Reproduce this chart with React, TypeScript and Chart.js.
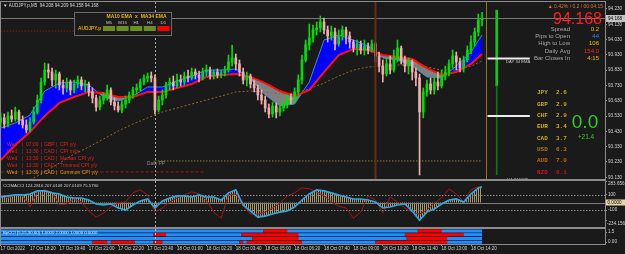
import React, { useEffect, useRef } from 'react';
import { Chart, registerables } from 'chart.js';

Chart.register(...registerables);

/* ------------------------------------------------------------------ */
/* data (x values are M5 bar numbers from 17 Oct 17:00) */
/* ------------------------------------------------------------------ */
const HEADER_TEXT = '\u25BC AUDJPY.p,M5  94.208 94.209 94.158 94.168';
const PANEL_SYMBOL = 'AUDJPY.p';
const PANEL_TITLE = 'MA10 EMA  x  MA34 EMA';
const TOP_RIGHT_TEXT = '\u25B2 0.42% / 0.2 / 00:04:15';
const LAST_PRICE = 94.168;
const LAST_BAR = 262;
const DAY_START_BAR = 84;
const SESSION_BAR = 204;
const NEXT_BAR = 264;

const TIME_TICK_BARS = [0, 16, 32, 48, 64, 80, 96, 112, 128, 144, 160, 176, 192, 208, 224, 240, 256];
const TIME_LABELS = [
  '17 Oct 2022', '17 Oct 18:20', '17 Oct 19:40', '17 Oct 21:00', '17 Oct 22:20', '17 Oct 23:40',
  '18 Oct 01:00', '18 Oct 02:20', '18 Oct 03:40', '18 Oct 05:00', '18 Oct 06:20', '18 Oct 07:40',
  '18 Oct 09:00', '18 Oct 10:20', '18 Oct 11:40', '18 Oct 13:00', '18 Oct 14:20',
];
const PRICE_TICKS = [94.23, 94.13, 94.03, 93.93, 93.83, 93.73, 93.63, 93.53, 93.43, 93.33, 93.23, 93.13];

// candles, one every 2 M5 bars
const OPEN = [
  93.491, 93.518, 93.478, 93.531, 93.511, 93.557, 93.505, 93.472, 93.439, 93.491,
  93.557, 93.635, 93.753, 93.831, 93.818, 93.766, 93.805, 93.733, 93.714, 93.753,
  93.701, 93.740, 93.766, 93.727, 93.740, 93.688, 93.648, 93.589, 93.635, 93.661,
  93.701, 93.622, 93.596, 93.570, 93.609, 93.635, 93.668, 93.701, 93.714, 93.753,
  93.779, 93.792, 93.779, 93.570, 93.635, 93.668, 93.733, 93.753, 93.727, 93.766,
  93.753, 93.792, 93.779, 93.818, 93.799, 93.779, 93.818, 93.831, 93.792, 93.818,
  93.799, 93.812, 93.831, 93.884, 93.910, 93.871, 93.818, 93.766, 93.792, 93.740,
  93.714, 93.668, 93.635, 93.583, 93.544, 93.596, 93.557, 93.583, 93.609, 93.648,
  93.635, 93.688, 93.766, 93.897, 93.995, 94.040, 94.093, 94.106, 94.145, 94.093,
  94.054, 94.080, 94.001, 94.054, 94.093, 94.054, 94.014, 93.975, 94.001, 93.962,
  93.988, 93.962, 94.001, 93.923, 93.857, 93.805, 93.871, 93.831, 93.910, 93.975,
  93.897, 93.857, 93.884, 93.818, 93.779, 93.557, 93.688, 93.740, 93.701, 93.753,
  93.727, 93.792, 93.818, 93.871, 93.923, 93.884, 93.844, 93.897, 93.962, 94.014,
  94.080, 94.158,
];
const HIGH = [
  93.550, 93.544, 93.557, 93.570, 93.589, 93.570, 93.531, 93.505, 93.518, 93.589,
  93.668, 93.779, 93.877, 93.871, 93.844, 93.831, 93.818, 93.766, 93.779, 93.766,
  93.766, 93.792, 93.786, 93.766, 93.753, 93.714, 93.668, 93.661, 93.681, 93.733,
  93.714, 93.648, 93.622, 93.635, 93.661, 93.688, 93.720, 93.740, 93.772, 93.799,
  93.812, 93.818, 93.799, 93.661, 93.701, 93.753, 93.779, 93.792, 93.805, 93.799,
  93.818, 93.831, 93.844, 93.838, 93.825, 93.844, 93.864, 93.851, 93.831, 93.838,
  93.831, 93.857, 93.929, 93.995, 93.936, 93.897, 93.844, 93.818, 93.805, 93.766,
  93.733, 93.701, 93.661, 93.609, 93.622, 93.616, 93.609, 93.635, 93.668, 93.674,
  93.714, 93.799, 93.929, 94.027, 94.132, 94.125, 94.145, 94.184, 94.171, 94.119,
  94.119, 94.106, 94.093, 94.119, 94.112, 94.080, 94.027, 94.027, 94.021, 94.027,
  94.008, 94.027, 94.014, 93.949, 93.897, 93.910, 93.923, 93.962, 94.027, 93.988,
  93.923, 93.910, 93.897, 93.844, 93.805, 93.714, 93.766, 93.779, 93.792, 93.818,
  93.831, 93.857, 93.897, 93.962, 93.949, 93.910, 93.923, 93.988, 94.054, 94.106,
  94.197, 94.209,
];
const LOW = [
  93.465, 93.452, 93.459, 93.491, 93.498, 93.478, 93.452, 93.420, 93.426, 93.478,
  93.544, 93.616, 93.733, 93.779, 93.727, 93.714, 93.701, 93.674, 93.688, 93.668,
  93.681, 93.714, 93.701, 93.688, 93.661, 93.616, 93.563, 93.570, 93.609, 93.635,
  93.603, 93.570, 93.557, 93.550, 93.583, 93.616, 93.648, 93.674, 93.694, 93.733,
  93.753, 93.753, 93.544, 93.557, 93.603, 93.648, 93.701, 93.701, 93.714, 93.727,
  93.733, 93.753, 93.766, 93.772, 93.753, 93.766, 93.792, 93.772, 93.772, 93.779,
  93.779, 93.792, 93.818, 93.857, 93.831, 93.792, 93.740, 93.727, 93.714, 93.688,
  93.635, 93.609, 93.557, 93.518, 93.524, 93.518, 93.531, 93.563, 93.583, 93.609,
  93.622, 93.668, 93.740, 93.884, 93.962, 94.014, 94.060, 94.080, 94.067, 94.014,
  94.027, 93.962, 93.988, 94.027, 94.001, 93.975, 93.949, 93.929, 93.936, 93.929,
  93.936, 93.949, 93.884, 93.818, 93.753, 93.792, 93.805, 93.818, 93.884, 93.871,
  93.818, 93.805, 93.766, 93.727, 93.145, 93.518, 93.661, 93.674, 93.674, 93.701,
  93.714, 93.766, 93.792, 93.844, 93.831, 93.818, 93.818, 93.884, 93.936, 93.988,
  94.054, 94.119,
];
const CLOSE = [
  93.518, 93.478, 93.531, 93.511, 93.557, 93.505, 93.472, 93.439, 93.491, 93.557,
  93.635, 93.753, 93.831, 93.818, 93.766, 93.805, 93.733, 93.714, 93.753, 93.701,
  93.740, 93.766, 93.727, 93.740, 93.688, 93.648, 93.589, 93.635, 93.661, 93.701,
  93.622, 93.596, 93.570, 93.609, 93.635, 93.668, 93.701, 93.714, 93.753, 93.779,
  93.792, 93.779, 93.570, 93.635, 93.668, 93.733, 93.753, 93.727, 93.766, 93.753,
  93.792, 93.779, 93.818, 93.799, 93.779, 93.818, 93.831, 93.792, 93.818, 93.799,
  93.812, 93.831, 93.884, 93.910, 93.871, 93.818, 93.766, 93.792, 93.740, 93.714,
  93.668, 93.635, 93.583, 93.544, 93.596, 93.557, 93.583, 93.609, 93.648, 93.635,
  93.688, 93.766, 93.897, 93.995, 94.040, 94.093, 94.106, 94.145, 94.093, 94.054,
  94.080, 94.001, 94.054, 94.093, 94.054, 94.014, 93.975, 94.001, 93.962, 93.988,
  93.962, 94.001, 93.923, 93.857, 93.805, 93.871, 93.831, 93.910, 93.975, 93.897,
  93.857, 93.884, 93.818, 93.779, 93.557, 93.688, 93.740, 93.701, 93.753, 93.727,
  93.792, 93.818, 93.871, 93.923, 93.884, 93.844, 93.897, 93.962, 94.014, 94.080,
  94.158, 94.168,
];

// moving averages, one reading every 8 bars (last = current bar)
const EMA10 = [
  93.452, 93.485, 93.537, 93.694, 93.746, 93.753, 93.733, 93.655, 93.629, 93.661,
  93.720, 93.720, 93.759, 93.792, 93.831, 93.831, 93.838, 93.772, 93.668, 93.596,
  93.609, 93.753, 94.027, 94.060, 94.027, 93.988, 93.910, 93.897, 93.857, 93.786,
  93.779, 93.857, 93.949, 94.060,
];
const EMA34 = [
  93.243, 93.341, 93.426, 93.531, 93.616, 93.655, 93.688, 93.681, 93.655, 93.655,
  93.688, 93.688, 93.714, 93.740, 93.786, 93.799, 93.805, 93.786, 93.746, 93.694,
  93.661, 93.701, 93.818, 93.929, 93.969, 93.962, 93.929, 93.916, 93.903, 93.844,
  93.799, 93.818, 93.871, 93.936,
];
const LONG_MA = [
  null, null, 93.112, 93.165, 93.223, 93.282, 93.328, 93.380, 93.433, 93.478,
  93.518, 93.557, 93.583, 93.609, 93.635, 93.661, 93.688, 93.694, 93.688, 93.674,
  93.681, 93.707, 93.746, 93.792, 93.831, 93.851, 93.857, 93.864, 93.864, 93.851,
  93.831, 93.831, 93.857, 93.890,
];

const DAILY_PP = 93.237;
const ALERT_LEVELS = [94.086, 93.165];
const ALERT_END_BARS = [85, 111];
const HTF_EMA_LEVELS = [93.906, 93.531];
const HTF_EMA_BARS = [265, 288];
const D1_BAR = 270;
const D1_BODY = [93.727, 94.223];
const D1_WICK = [93.145, 93.727];

// CCI sub window, one reading every 4 bars (last = current bar)
const CCI_TITLE = 'CCIMACCI 124.2816 207.0109 207.0109 75.5790';
const CCI_SLOW = [
  73, 87, 100, 100, 113, 153, 153, 127, 113, 73,
  60, 60, 33, -20, -33, -20, -73, -100, -33, 20,
  47, -73, 20, 60, 87, 87, 73, 100, 73, 73,
  33, 127, 167, -33, -113, -193, -180, -153, -127, -113,
  -60, 33, 113, 167, 153, 127, 100, 73, 47, 47,
  33, 7, -73, -60, -33, -20, -113, -233, -127, -87,
  -20, 33, 47, 7, 113, 193, 207,
];
const CCI_FAST = [
  100, 60, 100, 87, -60, 140, 167, 140, -33, -20,
  47, 7, -113, -193, -140, -60, -7, 7, 127, 167,
  100, -127, -73, 7, 60, 100, 140, 113, 33, -127,
  -207, 100, 113, -47, -153, -153, -127, -73, -7, 87,
  127, 193, 180, 140, 87, 7, -47, -73, -207, -127,
  87, 33, -140, 73, 7, -73, -127, -153, -100, -7,
  60, 180, 113, 7, 167, 207, 207,
];
const CCI_LEVELS = [100, -100];
const CCI_TICKS = [283.656, 100, 0, -100, -234.156];
const CCI_TICK_LABELS = ['283.656', '100', '0.0000', '-100', '-234.156'];

// BpCCI ribbon: red stretches (bar ranges) per row, blue elsewhere
const RIBBON_TITLE = 'BpCCI (5,15,30,60) 1.0000 2.0000 1.0000 0.0000';
const RIBBON_RED = [
  [[143, 156], [227, 240]],
  [[83, 90], [131, 162], [220, 252]],
  [[137, 162], [221, 243]],
  [[50, 58], [60, 73], [83, 88], [130, 132], [134, 164], [204, 243]],
];
const RIB_TICKS = [0, 1.5];
const RIB_TICK_LABELS = ['0.00', '1.5'];

// info panels
const TF_LABELS = ['M5', 'M15', 'H1', 'H4', 'D1'];
const TF_TREND = [1, 1, 1, 1, -1];
const INFO_LABELS = ['Spread', 'Pips to Open', 'High to Low', 'Daily Avg', 'Bar Closes In'];
const INFO_VALUES = ['0.2', '44', '106', '154.0', '4:15'];
const CURRENCIES = ['JPY', 'GBP', 'CHF', 'EUR', 'CAD', 'USD', 'AUD', 'NZD'];
const STRENGTH = [2.6, 2.9, 2.9, 3.4, 3.7, 6.3, 7.0, 8.1];
const STRENGTH_GAP = 0.0;
const PIPS_MOVE = 21.4;
const NEWS_DAY = ['Wed', 'Wed', 'Wed', 'Wed', 'Wed'];
const NEWS_TIME = ['07:00', '13:30', '13:30', '13:30', '13:30'];
const NEWS_CCY = ['GBP', 'CAD', 'CAD', 'CAD', 'CAD'];
const NEWS_EVENT = ['CPI y/y', 'CPI m/m', 'Median CPI y/y', 'Trimmed CPI y/y', 'Common CPI y/y'];

/* ------------------------------------------------------------------ */
/* styling / layout                                                    */
/* ------------------------------------------------------------------ */
const BG = '#1a1a1a';
const BORDER = '#8c8c8c';
const AXIS_TEXT = '#d2d2d2';
const FONT = '"Liberation Sans", Arial, Helvetica, sans-serif';
const MONO = '"Liberation Mono", "DejaVu Sans Mono", monospace';
const UP_COLOR = '#00e000';
const DOWN_COLOR = '#f2acac';
const INFO_COLORS = ['#e8c000', '#1e90ff', '#e8c000', '#ff2020', '#e8c000'];
const CCY_COLORS = ['#bfae34', '#bfa830', '#c4a828', '#d2b820', '#c8a41e', '#ac7420', '#c4621a', '#c01a1a'];
const X_MIN = (1 - 0.6) / 1.8375;
const X_MAX = (605 - 0.6) / 1.8375;
const Y_MAX = 94.23 + 7 / 153;
const Y_MIN = 94.23 - 170 / 153;
const CCI_MAX = 283.656;
const CCI_MIN = -323.2;
const RIB_MIN = -0.3;
const RIB_MAX = 1.95;

function txt(ctx, s, x, y, size, color, align = 'left', weight = 'normal', family = FONT, baseline = 'middle') {
  ctx.font = `${weight} ${size}px ${family}`;
  ctx.fillStyle = color;
  ctx.textAlign = align;
  ctx.textBaseline = baseline;
  ctx.fillText(s, x, y);
}
function vline(ctx, x, y0, y1, color, width, dash = []) {
  ctx.save();
  ctx.strokeStyle = color;
  ctx.lineWidth = width;
  ctx.setLineDash(dash);
  ctx.beginPath();
  ctx.moveTo(x, y0);
  ctx.lineTo(x, y1);
  ctx.stroke();
  ctx.restore();
}
function hline(ctx, x0, x1, y, color, width, dash = []) {
  ctx.save();
  ctx.strokeStyle = color;
  ctx.lineWidth = width;
  ctx.setLineDash(dash);
  ctx.beginPath();
  ctx.moveTo(x0, y);
  ctx.lineTo(x1, y);
  ctx.stroke();
  ctx.restore();
}
function frame(chart) {
  const { ctx, chartArea: a } = chart;
  ctx.save();
  ctx.strokeStyle = BORDER;
  ctx.lineWidth = 1;
  ctx.strokeRect(a.left - 0.5, a.top - 0.5, a.right - a.left + 1, a.bottom - a.top + 1);
  ctx.restore();
}

function rightAxis(min, max, ticks, showLabels, callback) {
  const sorted = [...ticks].sort((p, q) => p - q);
  return {
    type: 'linear',
    position: 'right',
    min,
    max,
    offset: false,
    afterBuildTicks: (s) => { s.ticks = sorted.map((v) => ({ value: v })); },
    afterFit: (s) => { s.width = 20; s.paddingTop = 0; s.paddingBottom = 0; },
    ticks: { display: showLabels, color: AXIS_TEXT, font: { size: 4.6, family: FONT }, padding: 1, callback },
    grid: { drawOnChartArea: false, drawTicks: true, tickLength: 2, color: BORDER, offset: false },
    border: { display: true, color: BORDER },
  };
}
const hiddenX = () => ({
  type: 'linear',
  display: false,
  min: X_MIN,
  max: X_MAX,
  offset: false,
  grid: { offset: false },
});
const baseOptions = {
  animation: false,
  responsive: false,
  devicePixelRatio: 1,
  events: [],
  plugins: { legend: { display: false }, tooltip: { enabled: false }, filler: { drawTime: 'beforeDatasetsDraw' } },
};
const line = (data, color, width, extra = {}) => ({
  type: 'line', data, borderColor: color, borderWidth: width, pointRadius: 0, tension: 0, fill: false, clip: 0, ...extra,
});

/* ---------------- main price window ---------------- */
const mainPlugin = {
  id: 'mainDecor',
  beforeDatasetsDraw(chart) {
    const { ctx, chartArea: a, scales: { x, y } } = chart;
    hline(ctx, a.left, a.right, Math.round(y.getPixelForValue(LAST_PRICE)) + 0.5, '#777777', 1);
    vline(ctx, Math.round(x.getPixelForValue(DAY_START_BAR)) + 0.5, a.top, a.bottom, '#a8a8a8', 1, [2, 2]);
  },
  afterDraw(chart) {
    const { ctx, chartArea: a, scales: { x, y } } = chart;
    vline(ctx, x.getPixelForValue(SESSION_BAR), a.top, a.bottom, '#6a2b17', 2);
    vline(ctx, Math.round(x.getPixelForValue(NEXT_BAR)) + 0.5, a.top, a.bottom, '#9c7420', 1);
    frame(chart);

    txt(ctx, HEADER_TEXT, 3, 5.5, 4.5, '#d8d8d8');

    // MA cross panel
    ctx.fillStyle = '#1b1b1b';
    ctx.fillRect(74, 12, 98, 24);
    ctx.strokeStyle = '#6a6a6a';
    ctx.lineWidth = 1;
    ctx.strokeRect(74.5, 12.5, 97, 23);
    txt(ctx, PANEL_TITLE, 136.5, 16.8, 5, '#e8b70a', 'center', 'bold');
    TF_LABELS.forEach((t, i) => {
      const cx = 109 + i * 13.6;
      txt(ctx, t, cx, 22.8, 4.4, '#c8c8c8', 'center');
      ctx.fillStyle = TF_TREND[i] > 0 ? '#6b8e23' : '#ff0000';
      ctx.fillRect(cx - 6, 26, 12, 5);
    });
    txt(ctx, PANEL_SYMBOL, 78, 28.6, 4.8, '#d8a800', 'left', 'bold');

    // right info block
    txt(ctx, TOP_RIGHT_TEXT, 603, 7, 5, '#d47a34', 'right');
    txt(ctx, LAST_PRICE.toFixed(3), 602, 19.5, 16, '#ff1e1e', 'right');
    INFO_LABELS.forEach((l, i) => {
      const yy = 29 + i * 7.4;
      txt(ctx, l, 570, yy, 6, '#a8a8a8', 'right');
      txt(ctx, INFO_VALUES[i], 599, yy, 6, INFO_COLORS[i], 'right');
    });

    // currency strength
    CURRENCIES.forEach((c, i) => {
      const yy = 92.7 + i * 11.33;
      txt(ctx, c, 537, yy, 6, CCY_COLORS[i], 'left', 'bold', MONO);
      txt(ctx, STRENGTH[i].toFixed(1), 556, yy, 6, CCY_COLORS[i], 'left', 'bold', MONO);
    });
    txt(ctx, STRENGTH_GAP.toFixed(1), 585, 122.5, 19, '#2fcb2f', 'center');
    txt(ctx, '+' + PIPS_MOVE.toFixed(1), 586, 137.5, 6.5, '#2fcb2f', 'center');

    // news list
    NEWS_DAY.forEach((d, i) => {
      const yy = 144.3 + i * 7;
      const col = i < 4 ? '#e42020' : '#d69a12';
      txt(ctx, d, 7, yy, 5, col);
      txt(ctx, '|', 22, yy, 5, col);
      txt(ctx, NEWS_TIME[i], 26, yy, 5, col);
      txt(ctx, '|', 41, yy, 5, col);
      txt(ctx, NEWS_CCY[i], 44, yy, 5, col);
      txt(ctx, '|', 56, yy, 5, col);
      txt(ctx, NEWS_EVENT[i], 60, yy, 5, col);
    });

    txt(ctx, 'Daily PP', 147, 163.5, 4.7, '#8e8e8e');
    txt(ctx, 'DAY 34 EMA', 506, 62, 4.2, '#c8c8c8');
    ctx.save();
    ctx.beginPath();
    ctx.rect(a.left, a.top, a.right - a.left, a.bottom - a.top);
    ctx.clip();
    txt(ctx, 'H4 34 EMA', 507, 179.5, 4.2, '#c8c8c8');
    ctx.restore();

    // current price box on the axis
    const py = y.getPixelForValue(LAST_PRICE);
    ctx.fillStyle = '#c4c4c4';
    ctx.fillRect(606, py - 3.5, 19, 7);
    txt(ctx, LAST_PRICE.toFixed(3), 608, py, 4.6, '#000000');
  },
};

function mainConfig() {
  const candleBar = (i) => i * 2;
  const maBar = (i) => Math.min(i * 8, LAST_BAR);
  const colors = OPEN.map((o, i) => (CLOSE[i] >= o ? UP_COLOR : DOWN_COLOR));
  return {
    type: 'line',
    data: {
      datasets: [
        line(LONG_MA.map((v, i) => ({ x: maBar(i), y: v })), '#8a6a2c', 1, { borderDash: [2, 2], order: 20 }),
        line([{ x: DAY_START_BAR, y: DAILY_PP }, { x: LAST_BAR, y: DAILY_PP }], '#8c7e3a', 1, { borderDash: [1.5, 1.5], order: 20 }),
        line([{ x: 0, y: ALERT_LEVELS[0] }, { x: ALERT_END_BARS[0], y: ALERT_LEVELS[0] }], '#8e1c1c', 1, { borderDash: [1.5, 1.5], order: 20 }),
        line([{ x: 0, y: ALERT_LEVELS[1] }, { x: ALERT_END_BARS[1], y: ALERT_LEVELS[1] }], '#a31b1b', 1, { borderDash: [3, 2], order: 20 }),
        line(EMA34.map((v, i) => ({ x: maBar(i), y: v })), '#ff1010', 2, { order: 3 }),
        line(EMA10.map((v, i) => ({ x: maBar(i), y: v })), '#2e8fda', 1, {
          order: 4,
          fill: { target: 4, above: '#0000ff', below: '#808080' },
        }),
        {
          type: 'bar', data: OPEN.map((_, i) => ({ x: candleBar(i), y: [LOW[i], HIGH[i]] })),
          backgroundColor: colors, barThickness: 1, grouped: false, borderWidth: 0, order: 2, clip: 0,
        },
        {
          type: 'bar', data: OPEN.map((o, i) => ({ x: candleBar(i), y: [o, CLOSE[i]] })),
          backgroundColor: colors, barThickness: 2, grouped: false, borderWidth: 0, minBarLength: 1, order: 1, clip: 0,
        },
        line(HTF_EMA_BARS.map((b) => ({ x: b, y: HTF_EMA_LEVELS[0] })), '#ededed', 2, { order: 1 }),
        line(HTF_EMA_BARS.map((b) => ({ x: b, y: HTF_EMA_LEVELS[1] })), '#ededed', 2, { order: 1 }),
        { type: 'bar', data: [{ x: D1_BAR, y: D1_WICK }], backgroundColor: '#0a7a0a', barThickness: 1, grouped: false, order: 1, clip: 0 },
        { type: 'bar', data: [{ x: D1_BAR, y: D1_BODY }], backgroundColor: '#10c810', barThickness: 2, grouped: false, order: 1, clip: 0 },
      ],
    },
    options: {
      ...baseOptions,
      layout: { padding: { left: 1, right: 0, top: 2, bottom: 2 } },
      scales: {
        x: hiddenX(),
        y: rightAxis(Y_MIN, Y_MAX, PRICE_TICKS, true, (v) => Number(v).toFixed(3)),
      },
    },
    plugins: [mainPlugin],
  };
}

/* ---------------- CCI window ---------------- */
const cciPlugin = {
  id: 'cciDecor',
  beforeDatasetsDraw(chart) {
    const { ctx, chartArea: a, scales: { x, y } } = chart;
    CCI_LEVELS.forEach((lv) => hline(ctx, a.left, a.right, Math.round(y.getPixelForValue(lv)) + 0.5, '#8a8a8a', 1, [1.5, 1.5]));
    hline(ctx, a.left, a.right, Math.round(y.getPixelForValue(0)) + 0.5, '#7c7c7c', 1);
    vline(ctx, Math.round(x.getPixelForValue(DAY_START_BAR)) + 0.5, a.top, a.bottom, '#a8a8a8', 1, [2, 2]);
  },
  afterDraw(chart) {
    const { ctx, chartArea: a, scales: { y } } = chart;
    frame(chart);
    txt(ctx, CCI_TITLE, 3, a.top + 4.5, 4.3, '#d0d0d0');
    CCI_TICKS.forEach((v, i) => {
      const py = y.getPixelForValue(v);
      if (i === 0) {
        txt(ctx, CCI_TICK_LABELS[i], 608, a.top + 0.8, 4.6, AXIS_TEXT, 'left', 'normal', FONT, 'top');
      } else if (i === CCI_TICKS.length - 1) {
        txt(ctx, CCI_TICK_LABELS[i], 607, py + 1.5, 4.6, AXIS_TEXT, 'left', 'normal', FONT, 'top');
      } else if (v === 0) {
        ctx.fillStyle = '#e8d5a8';
        ctx.fillRect(606, py - 3, 19, 6);
        txt(ctx, CCI_TICK_LABELS[i], 607.5, py, 4.6, '#000000');
      } else {
        txt(ctx, CCI_TICK_LABELS[i], 608, py, 4.6, AXIS_TEXT);
      }
    });
  },
};

function cciConfig(pattern) {
  const cciBar = (i) => Math.min(i * 4, LAST_BAR);
  return {
    type: 'line',
    data: {
      datasets: [
        line(CCI_FAST.map((v, i) => ({ x: cciBar(i), y: v })), '#a51616', 1, { order: 2 }),
        line(CCI_SLOW.map((v, i) => ({ x: cciBar(i), y: v })), '#2ba8e2', 1.6, {
          order: 1, fill: 'origin', backgroundColor: pattern,
        }),
      ],
    },
    options: {
      ...baseOptions,
      layout: { padding: { left: 1, right: 0, top: 7, bottom: 2 } },
      scales: { x: hiddenX(), y: rightAxis(CCI_MIN, CCI_MAX, CCI_TICKS, false) },
    },
    plugins: [cciPlugin],
  };
}

/* ---------------- ribbon window ---------------- */
const ribbonPlugin = {
  id: 'ribbonDecor',
  afterDatasetsDraw(chart) {
    const { ctx, chartArea: a, scales: { x } } = chart;
    vline(ctx, Math.round(x.getPixelForValue(DAY_START_BAR)) + 0.5, a.top, a.bottom, '#c0c0c0', 1, [2, 2]);
  },
  afterDraw(chart) {
    const { ctx, chartArea: a } = chart;
    frame(chart);
    txt(ctx, RIBBON_TITLE, 3, a.top + 4, 4.3, '#f0f0f0');
  },
};

function ribbonConfig() {
  const rows = RIBBON_RED.length;
  const level = (r) => RIB_MAX - ((r + 0.5) * (RIB_MAX - RIB_MIN)) / rows;
  const isRed = (r, b) => RIBBON_RED[r].some(([s, e]) => b >= s && b < e);
  const bars = Array.from({ length: LAST_BAR + 1 }, (_, b) => b);
  return {
    type: 'line',
    data: {
      datasets: RIBBON_RED.map((_, r) => ({
        type: 'line',
        data: bars.map((b) => ({ x: b, y: level(r) })),
        borderWidth: 3,
        borderCapStyle: 'butt',
        pointRadius: 0,
        borderColor: '#1f8fff',
        clip: 0,
        segment: { borderColor: (c) => (isRed(r, c.p0.parsed.x) ? '#ff0000' : '#1f8fff') },
      })),
    },
    options: {
      ...baseOptions,
      layout: { padding: { left: 1, right: 0, top: 7, bottom: 0 } },
      scales: {
        x: {
          type: 'linear',
          min: X_MIN,
          max: X_MAX,
          offset: false,
          position: 'bottom',
          afterBuildTicks: (s) => { s.ticks = TIME_TICK_BARS.map((v) => ({ value: v })); },
          afterFit: (s) => { s.height = 10; s.paddingLeft = 0; s.paddingRight = 0; },
          ticks: {
            autoSkip: false, maxRotation: 0, minRotation: 0, align: 'start', padding: 0,
            color: AXIS_TEXT, font: { size: 4.5, family: FONT },
            callback: (v, i) => TIME_LABELS[i] ?? '',
          },
          grid: { drawOnChartArea: false, drawTicks: true, tickLength: 2, color: BORDER, offset: false },
          border: { display: true, color: BORDER },
        },
        y: rightAxis(RIB_MIN, RIB_MAX, RIB_TICKS, true, (v) => RIB_TICK_LABELS[RIB_TICKS.indexOf(Number(v))] ?? ''),
      },
    },
    plugins: [ribbonPlugin],
  };
}

function makeHatch() {
  const c = document.createElement('canvas');
  c.width = 2;
  c.height = 1;
  const g = c.getContext('2d');
  g.fillStyle = '#a8996a';
  g.fillRect(0, 0, 1, 1);
  return g.createPattern(c, 'repeat');
}

export default function App() {
  const mainRef = useRef(null);
  const cciRef = useRef(null);
  const ribRef = useRef(null);

  useEffect(() => {
    document.body.style.margin = '0';
    document.body.style.background = BG;
    const charts = [
      new Chart(mainRef.current, mainConfig()),
      new Chart(cciRef.current, cciConfig(makeHatch())),
      new Chart(ribRef.current, ribbonConfig()),
    ];
    return () => charts.forEach((c) => c.destroy());
  }, []);

  const abs = (top) => ({ position: 'absolute', left: 0, top });
  return (
    <div style={{ position: 'relative', width: 625, height: 254, background: BG, overflow: 'hidden' }}>
      <style>{`body{margin:0;background:${BG};}`}</style>
      <canvas ref={mainRef} width={625} height={181} style={abs(0)} />
      <canvas ref={cciRef} width={625} height={55} style={abs(174)} />
      <canvas ref={ribRef} width={625} height={32} style={abs(222)} />
    </div>
  );
}
